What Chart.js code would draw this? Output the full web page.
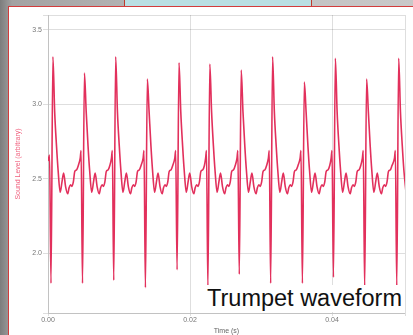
<!DOCTYPE html>
<html>
<head>
<meta charset="utf-8">
<script src="https://cdn.jsdelivr.net/npm/chart.js@4.4.1/dist/chart.umd.min.js"></script>
<style>
    html, body { margin: 0; padding: 0; }
    body {
        width: 413px; height: 335px; overflow: hidden; position: relative;
        background: linear-gradient(90deg, #7c7c7c 0px, #a2a2a2 12px, #bdbdbd 200px, #c9c9c9 413px);
        font-family: 'Liberation Sans', Arial, sans-serif;
    }
    #tab {
        position: absolute; left: 124px; top: -1px; width: 186px; height: 6px;
        background: #b9dfe3; border: 1px solid #c0392b;
    }
    #panel {
        position: absolute; left: 8px; top: 6px; width: 405px; height: 329px;
        background: #fff; border-left: 1px solid #d23c3c; border-top: 1px solid #d23c3c;
    }
    #waveChart { position: absolute; left: 10px; top: 8px; }
    #caption {
        position: absolute; left: 204px; top: 285px; padding: 2px 3px 1px 3px;
        background: #fff; color: #111; font-size: 23.5px; line-height: 1; white-space: nowrap;
    }
</style>
</head>
<body>
<div id="tab"></div>
<div id="panel"></div>
<canvas id="waveChart" width="403" height="327"></canvas>
<div id="caption">Trumpet waveform</div>

<script>
// time in milliseconds
const timeMs = [
    0.00, 0.22,
    0.42, 0.69, 0.94, 1.20, 1.42, 1.72, 1.97, 2.20, 2.47, 2.77, 2.97, 3.17, 3.37, 3.57, 3.77, 4.02, 4.27, 4.54, 4.66,
    4.86, 5.13, 5.38, 5.64, 5.86, 6.16, 6.41, 6.64, 6.91, 7.21, 7.41, 7.61, 7.81, 8.01, 8.21, 8.46, 8.71, 8.94, 9.06,
    9.26, 9.53, 9.78, 10.04, 10.26, 10.56, 10.81, 11.04, 11.31, 11.61, 11.81, 12.01, 12.21, 12.41, 12.61, 12.86, 13.11, 13.40, 13.52,
    13.72, 13.99, 14.24, 14.50, 14.72, 15.02, 15.27, 15.50, 15.77, 16.07, 16.27, 16.47, 16.67, 16.87, 17.07, 17.32, 17.57, 17.86, 17.98,
    18.18, 18.45, 18.70, 18.96, 19.18, 19.48, 19.73, 19.96, 20.23, 20.53, 20.73, 20.93, 21.13, 21.33, 21.53, 21.78, 22.03, 22.20, 22.32,
    22.52, 22.79, 23.04, 23.30, 23.52, 23.82, 24.07, 24.30, 24.57, 24.87, 25.07, 25.27, 25.47, 25.67, 25.87, 26.12, 26.37, 26.62, 26.74,
    26.94, 27.21, 27.46, 27.72, 27.94, 28.24, 28.49, 28.72, 28.99, 29.29, 29.49, 29.69, 29.89, 30.09, 30.29, 30.54, 30.79, 31.04, 31.16,
    31.36, 31.63, 31.88, 32.14, 32.36, 32.66, 32.91, 33.14, 33.41, 33.71, 33.91, 34.11, 34.31, 34.51, 34.71, 34.96, 35.21, 35.51, 35.63,
    35.83, 36.10, 36.35, 36.61, 36.83, 37.13, 37.38, 37.61, 37.88, 38.18, 38.38, 38.58, 38.78, 38.98, 39.18, 39.43, 39.68, 39.88, 40.00,
    40.20, 40.47, 40.72, 40.98, 41.20, 41.50, 41.75, 41.98, 42.25, 42.55, 42.75, 42.95, 43.15, 43.35, 43.55, 43.80, 44.05, 44.28, 44.40,
    44.60, 44.87, 45.12, 45.38, 45.60, 45.90, 46.15, 46.38, 46.65, 46.95, 47.15, 47.35, 47.55, 47.75, 47.95, 48.20, 48.45, 48.80, 48.92,
    49.12, 49.39, 49.64, 49.90, 50.12, 50.42
];

// sound level (arbitrary units)
const soundLevel = [
    2.62, 2.66,
    1.80, 3.32, 2.95, 2.72, 2.56, 2.41, 2.48, 2.54, 2.45, 2.40, 2.44, 2.46, 2.45, 2.48, 2.55, 2.56, 2.59, 2.64, 2.69,
    1.80, 3.21, 2.95, 2.72, 2.56, 2.41, 2.48, 2.54, 2.45, 2.40, 2.44, 2.46, 2.45, 2.48, 2.55, 2.56, 2.59, 2.64, 2.69,
    1.82, 3.32, 2.95, 2.72, 2.56, 2.41, 2.48, 2.54, 2.45, 2.40, 2.44, 2.46, 2.45, 2.48, 2.55, 2.56, 2.59, 2.64, 2.69,
    1.77, 3.17, 2.95, 2.72, 2.56, 2.41, 2.48, 2.54, 2.45, 2.40, 2.44, 2.46, 2.45, 2.48, 2.55, 2.56, 2.59, 2.64, 2.69,
    1.89, 3.28, 2.95, 2.72, 2.56, 2.41, 2.48, 2.54, 2.45, 2.40, 2.44, 2.46, 2.45, 2.48, 2.55, 2.56, 2.59, 2.64, 2.69,
    1.77, 3.27, 2.95, 2.72, 2.56, 2.41, 2.48, 2.54, 2.45, 2.40, 2.44, 2.46, 2.45, 2.48, 2.55, 2.56, 2.59, 2.64, 2.69,
    1.86, 3.23, 2.95, 2.72, 2.56, 2.41, 2.48, 2.54, 2.45, 2.40, 2.44, 2.46, 2.45, 2.48, 2.55, 2.56, 2.59, 2.64, 2.69,
    1.80, 3.32, 2.95, 2.72, 2.56, 2.41, 2.48, 2.54, 2.45, 2.40, 2.44, 2.46, 2.45, 2.48, 2.55, 2.56, 2.59, 2.64, 2.69,
    1.80, 3.15, 2.95, 2.72, 2.56, 2.41, 2.48, 2.54, 2.45, 2.40, 2.44, 2.46, 2.45, 2.48, 2.55, 2.56, 2.59, 2.64, 2.69,
    1.84, 3.31, 2.95, 2.72, 2.56, 2.41, 2.48, 2.54, 2.45, 2.40, 2.44, 2.46, 2.45, 2.48, 2.55, 2.56, 2.59, 2.64, 2.69,
    1.77, 3.17, 2.95, 2.72, 2.56, 2.41, 2.48, 2.54, 2.45, 2.40, 2.44, 2.46, 2.45, 2.48, 2.55, 2.56, 2.59, 2.64, 2.69,
    1.78, 3.31, 2.95, 2.72, 2.56, 2.41
];

const xTickValues = [0, 20, 40, 50.28];
const xTickLabels = ['0.00', '0.02', '0.04', ''];
const yTickValues = [1.6, 2.0, 2.5, 3.0, 3.5, 3.6];
const yTickLabels = ['', '2.0', '2.5', '3.0', '3.5', ''];

Chart.defaults.font.family = "'Liberation Sans', Arial, sans-serif";

const gridColor = 'rgba(0, 0, 0, 0.13)';

const ctx = document.getElementById('waveChart').getContext('2d');
const waveChart = new Chart(ctx, {
    type: 'line',
    data: {
        datasets: [{
            label: 'Trumpet',
            data: timeMs.map((t, i) => ({ x: t, y: soundLevel[i] })),
            borderColor: 'rgb(226, 48, 92)',
            borderWidth: 1.6,
            pointRadius: 0,
            cubicInterpolationMode: 'monotone',
            fill: false
        }]
    },
    options: {
        responsive: false,
        animation: false,
        devicePixelRatio: 1,
        layout: { padding: { left: 0, right: 8, top: 7, bottom: 0 } },
        plugins: { legend: { display: false }, tooltip: { enabled: false } },
        scales: {
            x: {
                type: 'linear',
                min: 0,
                max: 50.28,
                afterBuildTicks: (axis) => { axis.ticks = xTickValues.map(v => ({ value: v })); },
                afterFit: (axis) => { axis.height = 22; },
                grid: { color: gridColor, tickLength: 3 },
                border: { color: gridColor },
                ticks: {
                    autoSkip: false, maxRotation: 0, padding: 0,
                    color: '#777', font: { size: 7 },
                    callback: (v, i) => xTickLabels[i]
                },
                title: {
                    display: true, text: 'Time (s)', color: '#666',
                    font: { size: 7 }, padding: { top: 0, bottom: 0 }
                }
            },
            y: {
                min: 1.6,
                max: 3.6,
                afterBuildTicks: (axis) => { axis.ticks = yTickValues.map(v => ({ value: v })); },
                afterFit: (axis) => { axis.width = 38; },
                grid: { color: gridColor, tickLength: 5 },
                border: { color: gridColor },
                ticks: {
                    autoSkip: false, padding: 1,
                    color: '#777', font: { size: 7 },
                    callback: (v, i) => yTickLabels[i]
                },
                title: {
                    display: true, text: 'Sound Level (arbitrary)', color: 'rgb(240, 95, 125)',
                    font: { size: 7 }, padding: { top: 4, bottom: 0 }
                }
            }
        }
    }
});
</script>
</body>
</html>
